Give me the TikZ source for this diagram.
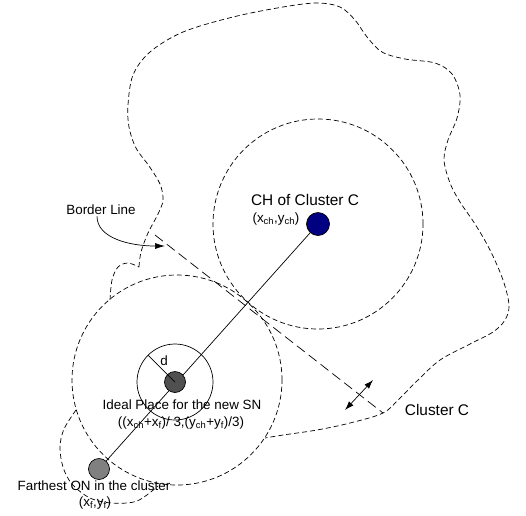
\documentclass[tikz,border=0pt]{standalone}
\usepackage{fontspec}
\setmainfont{Liberation Sans}
\usetikzlibrary{arrows.meta,positioning}
\definecolor{chblue}{RGB}{0,0,128}
\definecolor{idealgray}{RGB}{80,80,80}
\definecolor{fargray}{RGB}{128,128,128}

\begin{document}
\begin{tikzpicture}[x=1pt,y=-1pt,line width=0.7pt,
    sensor node/.style={circle,draw,inner sep=0pt,minimum size=23pt},
    lbl/.style={inner sep=0pt,font=\fontsize{13.4}{15}\selectfont},
    big lbl/.style={inner sep=0pt,font=\fontsize{15.4}{17}\selectfont},
    range line/.style={dash pattern=on 5pt off 3pt},
    border line/.style={dash pattern=on 10pt off 5pt}]
    \useasboundingbox (0,0) rectangle (526,515);

    % cluster region
    \draw[range line] plot[smooth,tension=0.55] coordinates {(110,300) (112,280) (118,267) (128,263) (139,267)};
    \draw[range line] plot[smooth,tension=0.55] coordinates {(139,267) (141,252) (148,233) (158,214) (163,200)
      (160,184) (149,166) (136,148) (129,127) (128,105) (133,75) (150,52) (183,32) (233,17)
      (283,7) (317,3) (340,7) (355,20) (367,37) (382,52) (405,59) (435,63) (452,74) (460,95)
      (457,118) (448,140) (444,160) (450,183) (460,202) (475,224) (490,250) (503,280) (509,305)
      (505,320) (493,332) (470,344) (440,360) (418,380) (400,398) (383,413) (350,423) (317,430)
      (283,435) (265,438)};
    \draw[range line] plot[smooth,tension=0.55] coordinates {(76,410) (64,429) (60,447) (63,467) (72,484)
      (90,498) (112,503) (137,501) (158,486)};

    \node[sensor node,fill=chblue] (ch) at (318,224) {};
    \node[sensor node,fill=fargray,minimum size=21pt] (far) at (99,469) {};

    \path (far) edge (ch);

    \node[sensor node,fill=idealgray,minimum size=21pt] (ideal) at (175,382) {};
    \coordinate (dend) at (148,355);
    \draw (ideal.center) -- (dend);
    \draw (ideal.center) circle (38pt);

    \draw[range line] (ch.center) circle (105pt);
    \draw[range line] (177,380) circle (105pt);

    % border between the clusters
    \coordinate (bl1) at (155,235);
    \coordinate (bl2) at (383,413);
    \draw[border line] (bl1) -- (bl2);
    \coordinate (da1) at (345,410);
    \coordinate (da2) at (373,380);
    \draw[{Latex[length=9pt,width=6pt]}-{Latex[length=9pt,width=6pt]}] (da1) -- (da2);

    \node[lbl] (borderlbl) at (101,210) {Border Line};
    \coordinate (bltip) at (165,246);
    \draw[-{Latex[length=10pt,width=6pt]}] ([xshift=-4pt,yshift=-1pt]borderlbl.south)
      .. controls +(0,22) and +(-35,0) .. (bltip);

    \node[big lbl] (chlbl) at (305,200) {CH of Cluster C};
    \node[lbl] (chpos) at (276,219) {(x\textsubscript{ch},y\textsubscript{ch})};
    \node[lbl] (dlbl) at (164,361) {d};
    \node[lbl] (ideallbl) at (182,405) {Ideal Place for the new SN};
    \node[lbl] (idealpos) at (181,423) {((x\textsubscript{ch}+x\textsubscript{f})/ 3,(y\textsubscript{ch}+y\textsubscript{f})/3)};
    \node[lbl] (farlbl) at (94,486) {Farthest ON in the cluster};
    \node[lbl] (farpos) at (95,503) {(x\textsubscript{f},y\textsubscript{f})};
    \node[big lbl] (clusterlbl) at (437,410) {Cluster C};
\end{tikzpicture}
\end{document}
